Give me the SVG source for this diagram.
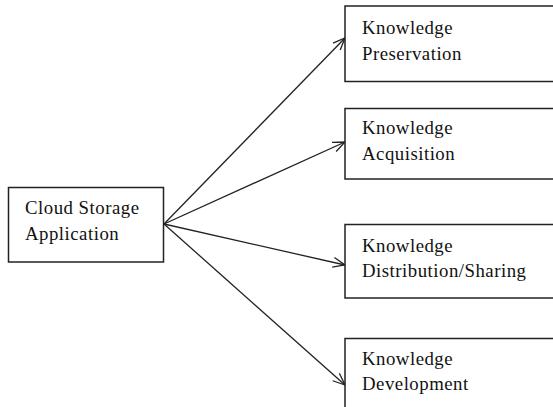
<svg xmlns="http://www.w3.org/2000/svg" width="553" height="407" viewBox="0 0 553 407">
<defs>
<style>
.box{fill:#fff;stroke:#222;stroke-width:1.5}
.t{font-family:"Liberation Serif","Times New Roman",serif;font-size:18.8px;letter-spacing:0.5px;fill:#111}
.c{stroke:#222;stroke-width:1.3;fill:none}
</style>
<marker id="a" markerWidth="14" markerHeight="12" refX="13" refY="6" orient="auto" markerUnits="userSpaceOnUse">
<path d="M1,1 L13,6 L1,11" fill="none" stroke="#222" stroke-width="1.3"/>
</marker>
</defs>
<rect width="553" height="407" fill="#fff"/>
<g id="connectors">
<line class="c" x1="164" y1="224" x2="345" y2="38" marker-end="url(#a)"/>
<line class="c" x1="164" y1="224" x2="345" y2="142" marker-end="url(#a)"/>
<line class="c" x1="164" y1="224" x2="345" y2="265" marker-end="url(#a)"/>
<line class="c" x1="164" y1="224" x2="345" y2="385" marker-end="url(#a)"/>
</g>
<g id="cloud">
<rect class="box" x="8.5" y="187.5" width="155" height="74.5"/>
<text class="t" x="25" y="214">Cloud Storage</text>
<text class="t" x="25" y="240">Application</text>
</g>
<g id="preservation">
<rect class="box" x="345" y="6" width="212" height="75.5"/>
<text class="t" x="362" y="34">Knowledge</text>
<text class="t" x="362" y="60">Preservation</text>
</g>
<g id="acquisition">
<rect class="box" x="345" y="108.5" width="212" height="70.5"/>
<text class="t" x="362" y="134">Knowledge</text>
<text class="t" x="362" y="160">Acquisition</text>
</g>
<g id="distribution">
<rect class="box" x="345" y="224.5" width="212" height="73.5"/>
<text class="t" x="362" y="252">Knowledge</text>
<text class="t" x="362" y="277">Distribution/Sharing</text>
</g>
<g id="development">
<rect class="box" x="345" y="338.5" width="212" height="80"/>
<text class="t" x="362" y="365">Knowledge</text>
<text class="t" x="362" y="390">Development</text>
</g>
</svg>
